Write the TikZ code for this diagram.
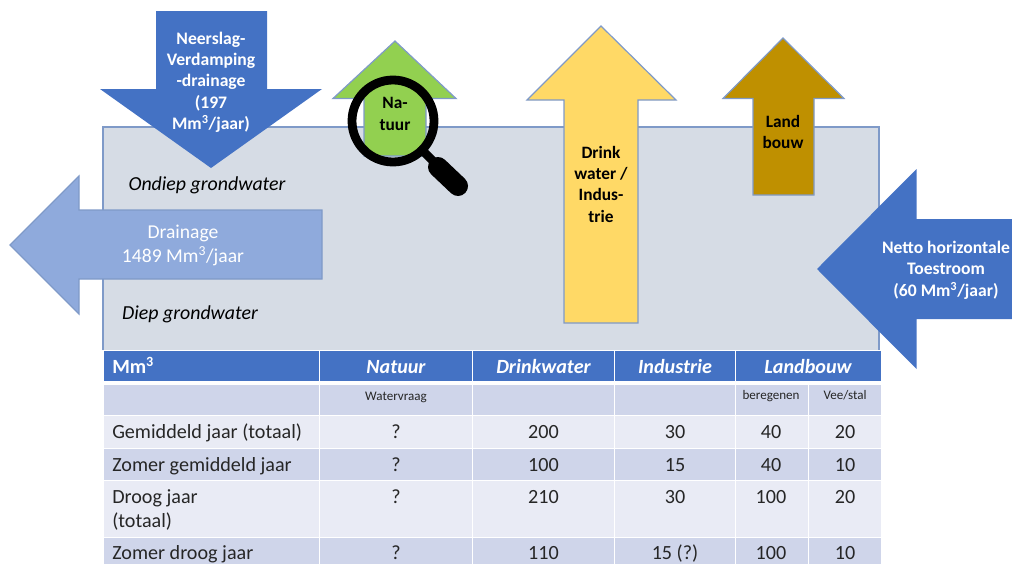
\documentclass[tikz,border=0pt]{standalone}
\usepackage{fontspec}
\setmainfont{Carlito}
\definecolor{hdrblue}{HTML}{4472C4}
\definecolor{soilgrey}{HTML}{D6DCE5}
\definecolor{soilline}{HTML}{7F9AC8}
\definecolor{drainblue}{HTML}{8FAADC}
\definecolor{natgreen}{HTML}{92D050}
\definecolor{drinkyellow}{HTML}{FFD966}
\definecolor{landbrown}{HTML}{BF9000}
\definecolor{bandcol}{HTML}{CFD5EA}
\definecolor{lightcol}{HTML}{E9EBF5}
\definecolor{inktext}{HTML}{262626}
\tikzset{
  arrowshape/.style={draw=soilline,line width=0.9pt,line join=miter},
  cellhead/.style={fill=hdrblue},
  cellband/.style={fill=bandcol},
  celllight/.style={fill=lightcol},
  whitetxt/.style={text=white,font=\fontsize{13.2pt}{16pt}\selectfont\bfseries,align=center,inner sep=0pt},
  blacktxt/.style={text=black,font=\fontsize{13pt}{16pt}\selectfont\bfseries,align=center,inner sep=0pt},
  soiltxt/.style={text=black,font=\fontsize{14.9pt}{16pt}\selectfont\itshape,inner sep=0pt,anchor=base},
  headtxt/.style={text=white,font=\fontsize{15.1pt}{16pt}\selectfont\bfseries\itshape,inner sep=0pt,anchor=base},
  rowtxt/.style={text=inktext,font=\fontsize{15.1pt}{18pt}\selectfont,inner sep=0pt,anchor=base west},
  numtxt/.style={text=inktext,font=\fontsize{15.1pt}{18pt}\selectfont,inner sep=0pt,anchor=base},
  smalltxt/.style={text=inktext,font=\fontsize{9.8pt}{10pt}\selectfont,inner sep=0pt,anchor=base},
}
\begin{document}
\begin{tikzpicture}[x=0.75pt,y=-0.75pt]
\useasboundingbox (0,0) rectangle (1012,564);
% soil block
\path[fill=soilgrey,draw=soilline,line width=0.9pt] (103,350) -- (103,127) -- (879,127) -- (879,350);
% arrows
\path[fill=hdrblue] (156,11) -- (267,11) -- (267,89) -- (322,89) -- (211,168) -- (100,89) -- (156,89) -- cycle;
\path[arrowshape,fill=natgreen] (395,41) -- (456,98.5) -- (426,98.5) -- (426,156) -- (364,156) -- (364,98.5) -- (333,98.5) -- cycle;
\path[arrowshape,fill=drinkyellow] (601,26) -- (676,100) -- (638,100) -- (638,323) -- (564,323) -- (564,100) -- (527,100) -- cycle;
\path[arrowshape,fill=landbrown] (783,38) -- (844,98.5) -- (814,98.5) -- (814,195) -- (753,195) -- (753,98.5) -- (723,98.5) -- cycle;
\path[arrowshape,fill=drainblue] (10,245) -- (79,176) -- (79,210) -- (322,210) -- (322,279) -- (79,279) -- (79,314) -- cycle;
\path[fill=hdrblue] (817,269) -- (916.5,169) -- (916.5,219) -- (1012,219) -- (1012,319) -- (916.5,319) -- (916.5,369) -- cycle;
% magnifier
\draw[line width=6.6pt,black] (393,121) circle[radius=41];
\draw[line width=6.5pt,black] (424,152) -- (438,166);
\draw[line width=15pt,black,line cap=round] (438,167) -- (458,186);
% arrow labels
\node[whitetxt] (neerslag) at (211,82) {Neerslag-\\Verdamping\\-drainage\\(197\\Mm\textsuperscript{3}/jaar)};
\node[blacktxt] (natuurlab) at (395,114) {Na-\\tuur};
\node[blacktxt] (drinklab) at (601,184) {Drink\\water /\\Indus-\\trie};
\node[blacktxt] (landlab) at (783,132) {Land\\bouw};
\node[text=white,font=\fontsize{14.7pt}{18pt}\selectfont,align=center,inner sep=0pt] (drainlab) at (183,245) {Drainage\\1489 Mm\textsuperscript{3}/jaar};
\node[whitetxt] (nettolab) at (946,270) {Netto horizontale\\Toestroom\\(60 Mm\textsuperscript{3}/jaar)};
\node[soiltxt] (ondiep) at (207,190) {Ondiep grondwater};
\node[soiltxt] (diep) at (190,319) {Diep grondwater};
% table header
\path[cellhead] (103.5,351) rectangle (318.5,381);
\path[cellhead] (320,351) rectangle (471.5,381);
\path[cellhead] (473,351) rectangle (613.5,381);
\path[cellhead] (615,351) rectangle (734.5,381);
\path[cellhead] (736,351) rectangle (881,381);
% sub-header row
\path[cellband] (103.5,385) rectangle (318.5,414.5);
\path[cellband] (320,385) rectangle (471.5,414.5);
\path[cellband] (473,385) rectangle (613.5,414.5);
\path[cellband] (615,385) rectangle (734.5,414.5);
\path[cellband] (736,385) rectangle (807.5,414.5);
\path[cellband] (809,385) rectangle (881,414.5);
% row 1
\path[celllight] (103.5,415.5) rectangle (318.5,447.5);
\path[celllight] (320,415.5) rectangle (471.5,447.5);
\path[celllight] (473,415.5) rectangle (613.5,447.5);
\path[celllight] (615,415.5) rectangle (734.5,447.5);
\path[celllight] (736,415.5) rectangle (807.5,447.5);
\path[celllight] (809,415.5) rectangle (881,447.5);
% row 2
\path[cellband] (103.5,448.5) rectangle (318.5,479.5);
\path[cellband] (320,448.5) rectangle (471.5,479.5);
\path[cellband] (473,448.5) rectangle (613.5,479.5);
\path[cellband] (615,448.5) rectangle (734.5,479.5);
\path[cellband] (736,448.5) rectangle (807.5,479.5);
\path[cellband] (809,448.5) rectangle (881,479.5);
% row 3
\path[celllight] (103.5,481) rectangle (318.5,536.5);
\path[celllight] (320,481) rectangle (471.5,536.5);
\path[celllight] (473,481) rectangle (613.5,536.5);
\path[celllight] (615,481) rectangle (734.5,536.5);
\path[celllight] (736,481) rectangle (807.5,536.5);
\path[celllight] (809,481) rectangle (881,536.5);
% row 4
\path[cellband] (103.5,538) rectangle (318.5,564);
\path[cellband] (320,538) rectangle (471.5,564);
\path[cellband] (473,538) rectangle (613.5,564);
\path[cellband] (615,538) rectangle (734.5,564);
\path[cellband] (736,538) rectangle (807.5,564);
\path[cellband] (809,538) rectangle (881,564);
% header texts
\node[headtxt,anchor=base west,font=\fontsize{15.1pt}{16pt}\selectfont\bfseries] (hmm) at (112,373) {Mm\textsuperscript{3}};
\node[headtxt] (hnat) at (396,373) {Natuur};
\node[headtxt] (hdrink) at (543.5,373) {Drinkwater};
\node[headtxt] (hind) at (675,373) {Industrie};
\node[headtxt] (hland) at (808,373) {Landbouw};
\node[smalltxt] (swv) at (396,400) {Watervraag};
\node[smalltxt] (sber) at (771,399) {beregenen};
\node[smalltxt] (svee) at (845,399) {Vee/stal};
% rows
\node[rowtxt] (r1) at (112,438) {Gemiddeld jaar (totaal)};
\node[numtxt] (r1a) at (396,438) {?};
\node[numtxt] (r1b) at (543.5,438) {200};
\node[numtxt] (r1c) at (675,438) {30};
\node[numtxt] (r1d) at (771,438) {40};
\node[numtxt] (r1e) at (845,438) {20};
\node[rowtxt] (r2) at (112,471) {Zomer gemiddeld jaar};
\node[numtxt] (r2a) at (396,471) {?};
\node[numtxt] (r2b) at (543.5,471) {100};
\node[numtxt] (r2c) at (675,471) {15};
\node[numtxt] (r2d) at (771,471) {40};
\node[numtxt] (r2e) at (845,471) {10};
\node[rowtxt] (r3) at (112,503) {Droog jaar};
\node[rowtxt] (r3x) at (112,527) {(totaal)};
\node[numtxt] (r3a) at (396,503) {?};
\node[numtxt] (r3b) at (543.5,503) {210};
\node[numtxt] (r3c) at (675,503) {30};
\node[numtxt] (r3d) at (771,503) {100};
\node[numtxt] (r3e) at (845,503) {20};
\node[rowtxt] (r4) at (112,559) {Zomer droog jaar};
\node[numtxt] (r4a) at (396,559) {?};
\node[numtxt] (r4b) at (543.5,559) {110};
\node[numtxt] (r4c) at (675,559) {15 (?)};
\node[numtxt] (r4d) at (771,559) {100};
\node[numtxt] (r4e) at (845,559) {10};
\end{tikzpicture}
\end{document}
